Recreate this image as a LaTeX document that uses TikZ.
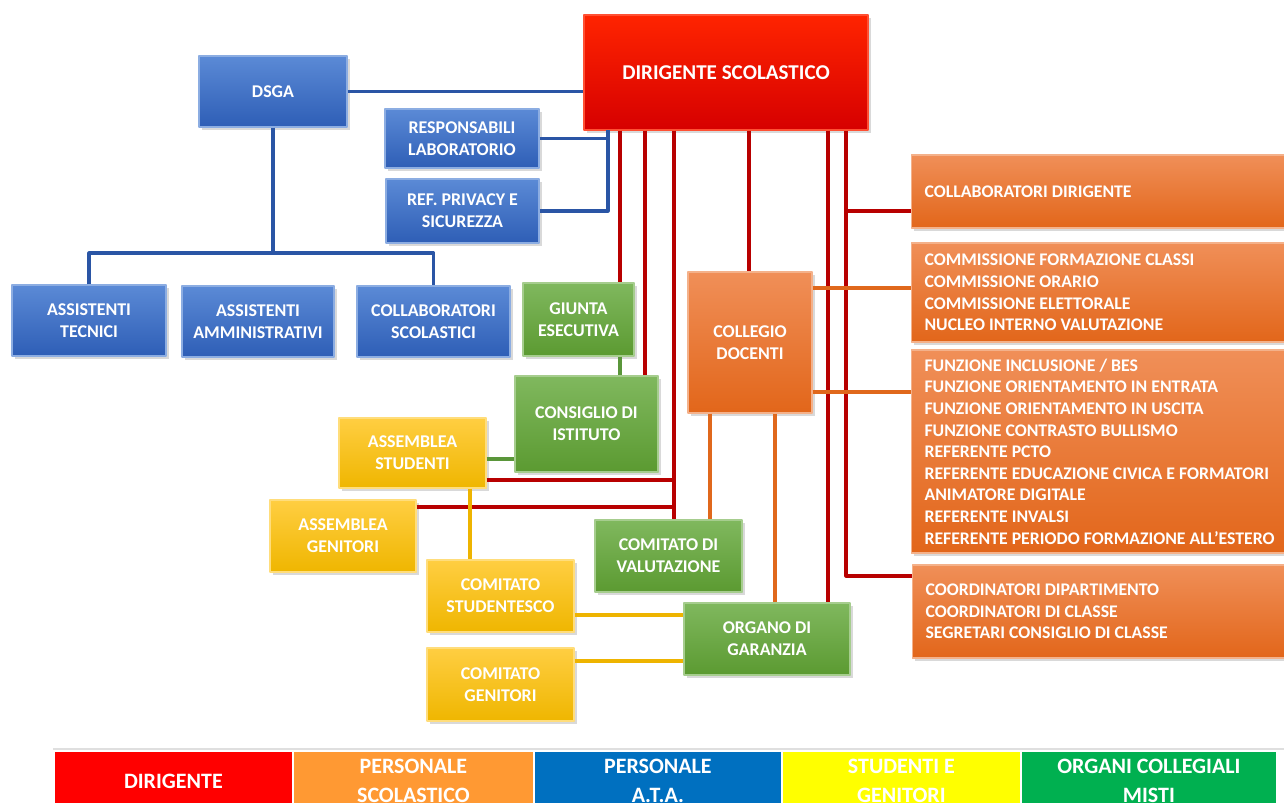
\documentclass[tikz,border=0pt]{standalone}
\usepackage{fontspec}
\setmainfont{Carlito}
\usetikzlibrary{shadows}
\definecolor{bluetop}{HTML}{5B8AD6}
\definecolor{bluebot}{HTML}{2E5EB6}
\definecolor{redtop}{HTML}{FF2400}
\definecolor{redbot}{HTML}{D60000}
\definecolor{orangetop}{HTML}{F08F58}
\definecolor{orangebot}{HTML}{E2661A}
\definecolor{greentop}{HTML}{80B85E}
\definecolor{greenbot}{HTML}{5B9A31}
\definecolor{yellowtop}{HTML}{FFCE42}
\definecolor{yellowbot}{HTML}{EFB600}
\definecolor{lnred}{HTML}{B80000}
\definecolor{lnblue}{HTML}{2A55A5}
\definecolor{lngreen}{HTML}{5A963A}
\definecolor{lnorange}{HTML}{E0681C}
\definecolor{lnyellow}{HTML}{EEB400}
\definecolor{legred}{HTML}{FF0000}
\definecolor{legorange}{HTML}{FF9933}
\definecolor{legblue}{HTML}{0070C0}
\definecolor{legyellow}{HTML}{FFFF00}
\definecolor{leggreen}{HTML}{00B050}

\begin{document}
\begin{tikzpicture}[x=0.02cm,y=-0.02cm,line join=round,
    sz/.style 2 args={minimum width=#1*0.02cm,minimum height=#2*0.02cm},
    box/.style={rectangle,inner sep=2pt,align=center,text=white,line width=0.6pt,
        font=\fontsize{10.2}{12.5}\selectfont\bfseries,
        drop shadow={shadow xshift=1.6pt,shadow yshift=-1.6pt,opacity=0.3}},
    bluebox/.style={box,draw=bluetop!70!white,top color=bluetop,bottom color=bluebot},
    redbox/.style={box,draw=redtop!80!white,top color=redtop,bottom color=redbot},
    orangebox/.style={box,draw=orangetop!70!white,top color=orangetop,bottom color=orangebot},
    greenbox/.style={box,draw=greentop!70!white,top color=greentop,bottom color=greenbot},
    yellowbox/.style={box,draw=yellowtop!70!white,top color=yellowtop,bottom color=yellowbot},
    listbox/.style={orangebox,align=flush left,text width=7.4cm,inner xsep=0.26cm,anchor=west,
        font=\fontsize{10.1}{12.3}\selectfont\bfseries},
    legcell/.style={rectangle,draw=white,line width=1pt,text=white,align=center,
        minimum height=60*0.02cm,anchor=north west,inner sep=0pt,
        font=\fontsize{12.5}{17}\selectfont\bfseries},
    wire/.style={line width=1.8pt}]
    \useasboundingbox (0,0) rectangle (1284,803);

    \node[redbox,sz={284}{115},font=\fontsize{12}{14}\selectfont\bfseries] (dir) at (726,72.5) {DIRIGENTE SCOLASTICO};

    \node[bluebox,sz={148}{71}] (dsga) at (273,91.5) {DSGA};
    \node[bluebox,sz={154}{59}] (resp) at (462,138.5) {RESPONSABILI\\LABORATORIO};
    \node[bluebox,sz={153}{64}] (priv) at (462.5,211) {REF. PRIVACY E\\SICUREZZA};
    \node[bluebox,sz={154}{71}] (tec) at (89,320.5) {ASSISTENTI\\TECNICI};
    \node[bluebox,sz={152}{71}] (amm) at (258,321.5) {ASSISTENTI\\AMMINISTRATIVI};
    \node[bluebox,sz={153}{71}] (csc) at (433.5,321.5) {COLLABORATORI\\SCOLASTICI};

    \node[greenbox,sz={111}{73}] (giu) at (578.5,319.5) {GIUNTA\\ESECUTIVA};
    \node[greenbox,sz={143}{96}] (cons) at (586.5,424) {CONSIGLIO DI\\ISTITUTO};
    \node[greenbox,sz={147}{72}] (cval) at (668.5,556) {COMITATO DI\\VALUTAZIONE};
    \node[greenbox,sz={166}{72}] (org) at (767,639) {ORGANO DI\\GARANZIA};

    \node[yellowbox,sz={147}{70}] (ast) at (412.5,453) {ASSEMBLEA\\STUDENTI};
    \node[yellowbox,sz={146}{72}] (age) at (343,536) {ASSEMBLEA\\GENITORI};
    \node[yellowbox,sz={147}{72}] (cst) at (500.5,596) {COMITATO\\STUDENTESCO};
    \node[yellowbox,sz={147}{73}] (cge) at (500.5,684.5) {COMITATO\\GENITORI};

    \node[orangebox,sz={124}{141}] (coll) at (750,342.5) {COLLEGIO\\DOCENTI};
    \node[listbox,minimum height=73*0.02cm] (r1) at (911,191.5) {COLLABORATORI DIRIGENTE};
    \node[listbox,minimum height=99*0.02cm] (r2) at (911,292.5) {COMMISSIONE FORMAZIONE CLASSI\\COMMISSIONE ORARIO\\COMMISSIONE ELETTORALE\\NUCLEO INTERNO VALUTAZIONE};
    \node[listbox,minimum height=203*0.02cm] (r3) at (911,451.5) {FUNZIONE INCLUSIONE / BES\\FUNZIONE ORIENTAMENTO IN ENTRATA\\FUNZIONE ORIENTAMENTO IN USCITA\\FUNZIONE CONTRASTO BULLISMO\\REFERENTE PCTO\\REFERENTE EDUCAZIONE CIVICA E FORMATORI\\ANIMATORE DIGITALE\\REFERENTE INVALSI\\REFERENTE PERIODO FORMAZIONE ALL'ESTERO};
    \node[listbox,minimum height=93*0.02cm] (r4) at (912,611.5) {COORDINATORI DIPARTIMENTO\\COORDINATORI DI CLASSE\\SEGRETARI CONSIGLIO DI CLASSE};

    \path (674,480) coordinate (j1) (674,507) coordinate (j2) (846,211) coordinate (j3)
    (846,576) coordinate (j4) (608,130) coordinate (j5) (273,253) coordinate (j6);

    \draw[wire,lnred]
    \foreach \x/\n in {620/giu,645/cons,674/cval,749/coll,828/org}
    {(dir.south -| \x,0) -- (\n.north -| \x,0)};
    \draw[wire,lnred] (ast.east |- j1) -- (j1) (age.east |- j2) -- (j2)
    (dir.south -| j3) -- (j4) -- (r4.west |- j4) (j3) -- (r1.west |- j3);

    \draw[wire,lnblue] (dsga.east) -- (dsga.east -| dir.west) (dsga.south) -- (j6)
    (tec.north) |- (j6) -| (csc.north)
    (resp.east) -- (resp.east -| j5) (priv.east) -| (j5);

    \draw[wire,lngreen] (giu.south -| 620,0) -- (cons.north -| 620,0)
    (ast.east |- 0,459) -- (cons.west |- 0,459);

    \draw[wire,lnorange] (coll.east |- 0,288) -- (r2.west |- 0,288)
    (coll.east |- 0,392) -- (r3.west |- 0,392)
    (coll.south -| 710,0) -- (cval.north -| 710,0)
    (coll.south -| 775,0) -- (org.north -| 775,0);

    \draw[wire,lnyellow] (ast.south -| 470,0) -- (cst.north -| 470,0)
    (cst.east |- 0,615) -- (org.west |- 0,615)
    (cge.east |- 0,661) -- (org.west |- 0,661);

    \begin{scope}
    \clip (0,0) rectangle (1284,803);
    \draw[gray!25,line width=1.2pt] (53,749) -- (1284,749);
    \foreach \n/\c/\a/\w/\t in {lg1/legred/53/239/DIRIGENTE,
        lg2/legorange/292/241/{PERSONALE\\SCOLASTICO},
        lg3/legblue/533/248/{PERSONALE\\A.T.A.},
        lg4/legyellow/781/239/{STUDENTI E\\GENITORI},
        lg5/leggreen/1020/256/{ORGANI COLLEGIALI\\MISTI}}
    \node[legcell,fill=\c,minimum width=\w*0.02cm] (\n) at (\a,750) {\t};
    \end{scope}
\end{tikzpicture}
\end{document}
